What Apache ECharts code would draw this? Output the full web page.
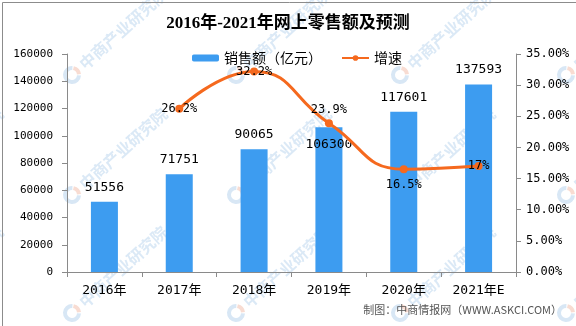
<!DOCTYPE html>
<html>
<head>
<meta charset="utf-8">
<script src="https://cdn.jsdelivr.net/npm/echarts@6/dist/echarts.min.js"></script>
<style>
  html, body { margin: 0; padding: 0; background: #fff; }
  #chart { width: 576px; height: 326px; }
</style>
</head>
<body>
<div id="chart"></div>
<script>
// Online retail sales 2016-2021 (100 million yuan) and year-on-year growth
const years = ['2016年', '2017年', '2018年', '2019年', '2020年', '2021年E'];
const sales = [51556, 71751, 90065, 106300, 117601, 137593];
const growth = [null, 26.2, 32.2, 23.9, 16.5, 17];
const salesName = '销售额（亿元）';
const growthName = '增速';
const titleText = '2016年-2021年网上零售额及预测';
const sourceText = '制图：中商情报网（WWW.ASKCI.COM）';
const markText = '中商产业研究院';

// where each growth label sits relative to its point
const growthLabelPos = [null, 'inside', 'inside', 'top', 'bottom', 'inside'];

const MONO = '"DejaVu Sans Mono", "Noto Sans CJK SC", monospace';
const CJK = '"Noto Sans CJK SC", sans-serif';
const AXIS_COLOR = '#8a8a8a';

// faint diagonal brand marks tiled across the background
function brandMarks() {
  const xs = [-92, 72, 236, 400, 566];
  const ys = [75, 195, 313];
  const out = [];
  ys.forEach(y => xs.forEach(x => {
    out.push({
      type: 'group', x: x, y: y, rotation: 42 * Math.PI / 180, z: -10, silent: true,
      children: [
        { type: 'arc', shape: { cx: 0, cy: 0, r: 7, startAngle: Math.PI * 0.25, endAngle: Math.PI * 1.75 },
          style: { stroke: '#d8e7f5', lineWidth: 4, fill: null } },
        { type: 'arc', shape: { cx: 0, cy: 0, r: 7, startAngle: -Math.PI * 0.2, endAngle: Math.PI * 0.2 },
          style: { stroke: '#f8dcd2', lineWidth: 4, fill: null } },
        { type: 'text', x: 13, y: 0,
          style: { text: markText, fill: '#dbe9f6', font: 'bold 16px "Noto Sans CJK SC"', verticalAlign: 'middle' } }
      ]
    });
  }));
  return out;
}

const chart = echarts.init(document.getElementById('chart'), null, { renderer: 'canvas' });

chart.setOption({
  backgroundColor: '#ffffff',
  animation: false,
  title: {
    text: titleText,
    left: 'center',
    top: 10,
    textStyle: { fontSize: 17, fontWeight: 'bold', color: '#000', fontFamily: '"Liberation Serif", "Noto Sans CJK SC", serif' }
  },
  legend: {
    data: [salesName, growthName],
    left: 187,
    top: 46,
    itemWidth: 27,
    itemHeight: 7,
    itemGap: 19,
    textStyle: { fontSize: 14, color: '#000', fontFamily: CJK }
  },
  grid: { left: 67, right: 60, top: 54, bottom: 54, containLabel: false },
  xAxis: {
    type: 'category',
    data: years,
    axisLine: { lineStyle: { color: AXIS_COLOR } },
    axisTick: { show: true, alignWithLabel: false, length: 5, lineStyle: { color: AXIS_COLOR } },
    axisLabel: { color: '#000', fontSize: 13, margin: 12, fontFamily: MONO }
  },
  yAxis: [
    {
      type: 'value', min: 0, max: 160000, interval: 20000,
      axisLine: { show: true, lineStyle: { color: AXIS_COLOR } },
      axisTick: { show: true, length: 5, lineStyle: { color: AXIS_COLOR } },
      splitLine: { show: false },
      axisLabel: { color: '#000', fontSize: 11, margin: 14, fontFamily: MONO,
        formatter: v => String(v) }
    },
    {
      type: 'value', min: 0, max: 35, interval: 5,
      axisLine: { show: true, lineStyle: { color: AXIS_COLOR } },
      axisTick: { show: true, length: 5, lineStyle: { color: AXIS_COLOR } },
      splitLine: { show: false },
      axisLabel: { color: '#000', fontSize: 12, margin: 10, fontFamily: MONO,
        formatter: v => v.toFixed(2) + '%' }
    }
  ],
  series: [
    {
      name: salesName,
      type: 'bar',
      barWidth: 27,
      itemStyle: { color: '#3d9cf0' },
      data: sales.map((v, i) => ({
        value: v,
        label: years[i] === '2019年'
          ? { position: 'insideTop', distance: 11 }
          : { position: 'top', distance: 8 }
      })),
      label: { show: true, color: '#000', fontSize: 13, fontFamily: MONO }
    },
    {
      name: growthName,
      type: 'line',
      yAxisIndex: 1,
      smooth: true,
      connectNulls: false,
      symbol: 'circle',
      symbolSize: 8,
      lineStyle: { color: '#f5691e', width: 3 },
      itemStyle: { color: '#f5691e' },
      data: growth.map((v, i) => v === null ? null : ({
        value: v,
        label: { position: growthLabelPos[i], distance: growthLabelPos[i] === 'bottom' ? 6 : 3 }
      })),
      label: { show: true, color: '#000', fontSize: 12, fontFamily: MONO, formatter: p => p.value + '%' },
      z: 5
    }
  ],
  graphic: brandMarks().concat([
    {
      type: 'text', right: 14, top: 304, z: 10,
      style: { text: sourceText, fill: '#555', font: '11px "Noto Sans CJK SC"' }
    },
    {
      type: 'rect', left: 0, top: 0, z: 20, silent: true,
      shape: { x: 0.5, y: 0.5, width: 575, height: 325 },
      style: { fill: null, stroke: '#8c8c8c', lineWidth: 1 }
    }
  ])
});
</script>
</body>
</html>
